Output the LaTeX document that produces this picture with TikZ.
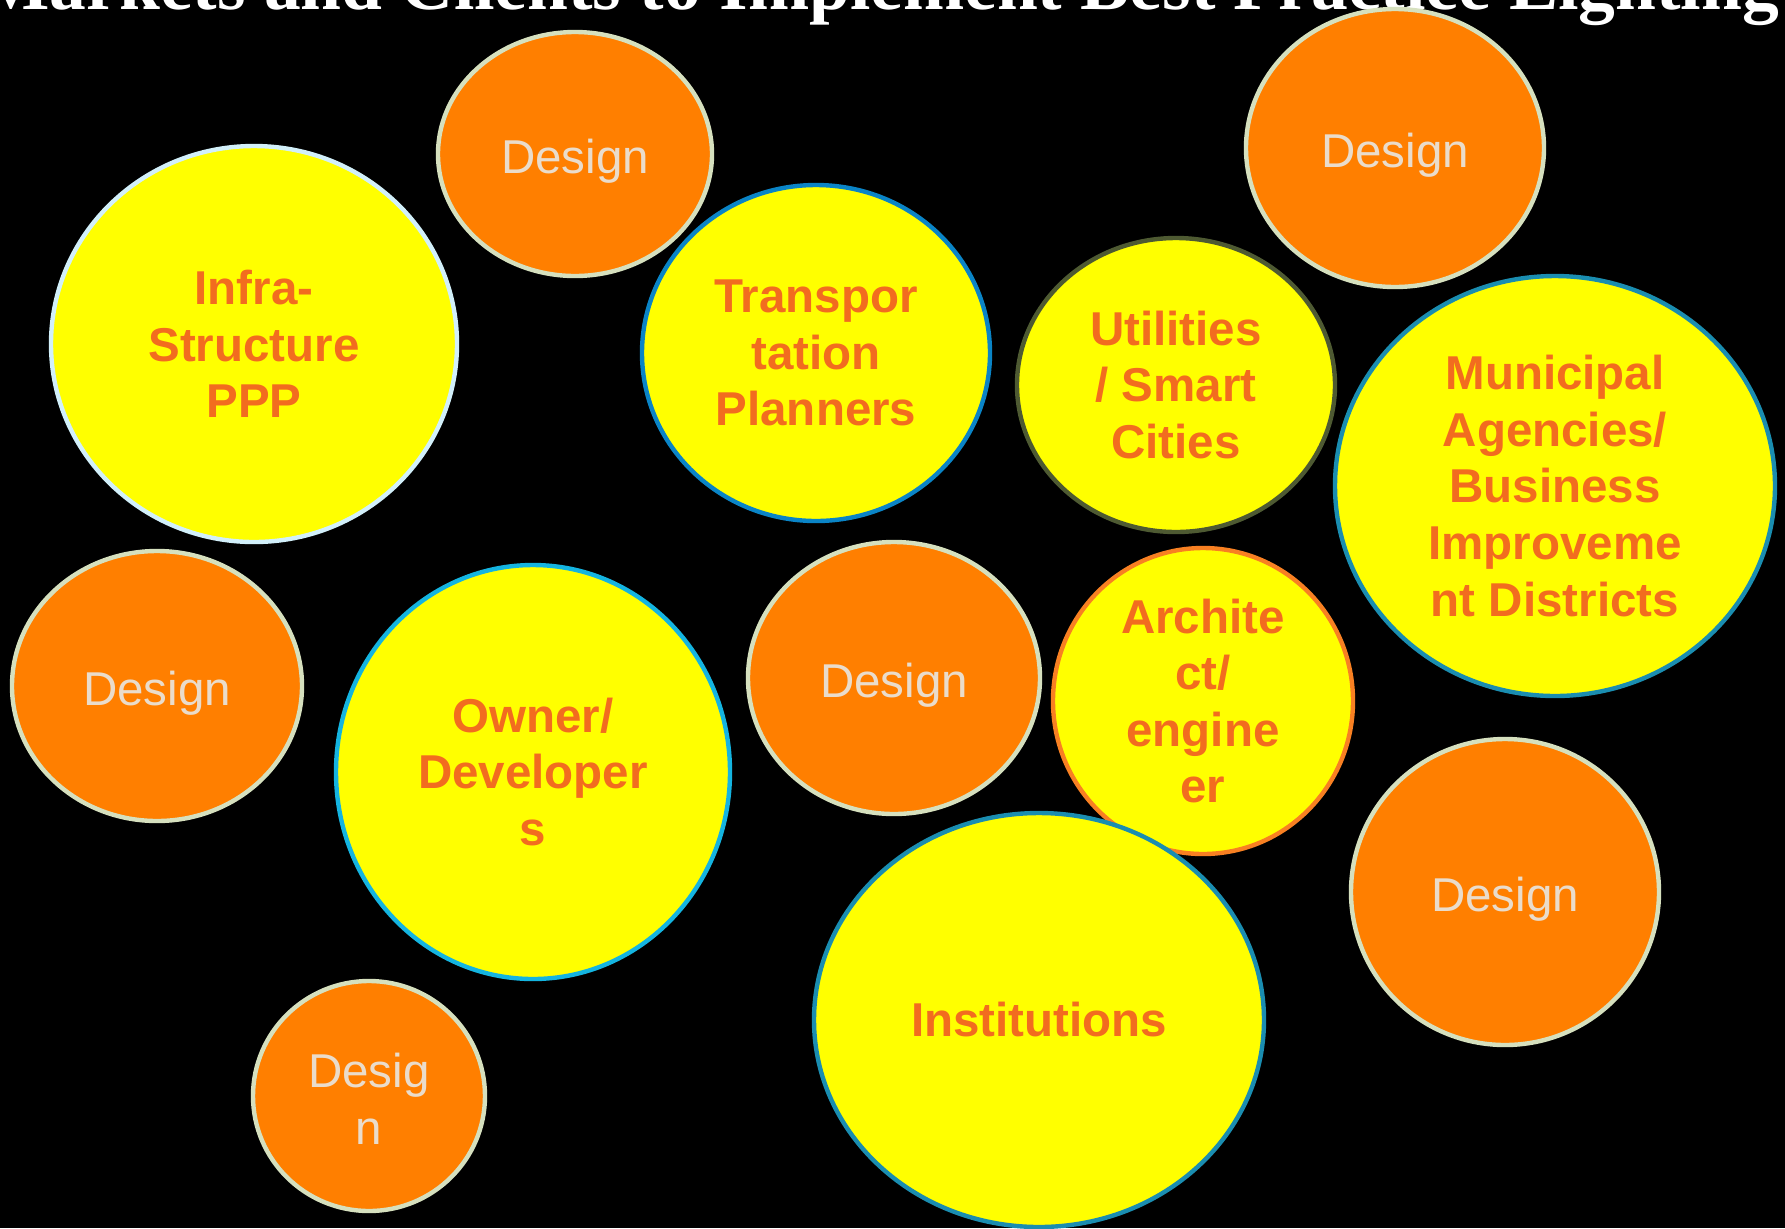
\documentclass[tikz,border=0pt]{standalone}
\usepackage{fontspec}
\setmainfont{Liberation Sans}
\newfontfamily\titlefont{Liberation Serif}
\usetikzlibrary{shapes.geometric}

\definecolor{bubbleyellow}{HTML}{FFFF00}
\definecolor{designorange}{HTML}{FF7F00}
\definecolor{txtorange}{HTML}{F26C1F}
\definecolor{designtxt}{HTML}{EADCCB}
\definecolor{designline}{HTML}{D6E0BE}
\definecolor{infraline}{HTML}{D2F0FA}
\definecolor{transline}{HTML}{0A84C6}
\definecolor{utilline}{HTML}{4E5A32}
\definecolor{muniline}{HTML}{1A8DB0}
\definecolor{ownerline}{HTML}{14B4E0}
\definecolor{archline}{HTML}{F88022}

\newcommand\bubblesize{\fontsize{23.75}{28.3}\selectfont}

\begin{document}
\begin{tikzpicture}[x=0.5pt,y=-0.5pt,
    bubble/.style={ellipse,draw,line width=2.2pt,inner sep=0pt,fill=bubbleyellow},
    design/.style={bubble,fill=designorange,draw=designline},
    bubbletxt/.style={text=txtorange,font=\bubblesize\bfseries,align=center},
    designtxt/.style={text=designtxt,font=\bubblesize,align=center,yshift=-3.5pt}]
        \useasboundingbox (0,0) rectangle (1785,1228);
        \fill[black] (0,0) rectangle (1785,1228);

        \node[anchor=base west,text=white,font=\fontsize{36.75}{44}\titlefont\bfseries,inner sep=0] (title) at (-20,9.5) {Markets and Clients to Implement Best Practice Lighting};

        % design bubbles
        \foreach \n/\x/\y/\w/\h in {1/575/154/137/122, 2/1395/148/149/139, 3/157/686/145/135, 4/894/678/146/136, 5/1505/892/154/153} {
            \node[design,minimum width=\w pt,minimum height=\h pt,label={[designtxt]center:Design}] (design\n) at (\x,\y) {};
        }
        \node[design,minimum width=116pt,minimum height=115pt,label={[designtxt,yshift=2pt]center:{Desig\\n}}] (design6) at (369,1096) {};

        % client bubbles
        \node[bubble,draw=infraline,minimum width=203pt,minimum height=198pt,label={[bubbletxt]center:{Infra-\\Structure\\PPP}}] (infra) at (254,344) {};
        \node[bubble,draw=transline,minimum width=174pt,minimum height=168pt,label={[bubbletxt]center:{Transpor\\tation\\Planners}}] (transport) at (816,353) {};
        \node[bubble,draw=utilline,minimum width=159pt,minimum height=147pt,label={[bubbletxt]center:{Utilities\\/ Smart\\Cities}}] (utilities) at (1176,385) {};
        \node[bubble,draw=muniline,minimum width=220pt,minimum height=210pt,label={[bubbletxt]center:{Municipal\\Agencies/\\Business\\Improveme\\nt Districts}}] (municipal) at (1555,486) {};
        \node[bubble,draw=ownerline,minimum width=197pt,minimum height=207pt,label={[bubbletxt]center:{Owner/\\Developer\\s}}] (owner) at (533,772) {};
        \node[bubble,draw=archline,minimum width=150pt,minimum height=153pt,label={[bubbletxt]center:{Archite\\ct/\\engine\\er}}] (architect) at (1203,701) {};
        \node[bubble,draw=muniline,minimum width=225pt,minimum height=207pt,label={[bubbletxt]center:Institutions}] (institutions) at (1039,1020) {};
    \end{tikzpicture}
\end{document}
